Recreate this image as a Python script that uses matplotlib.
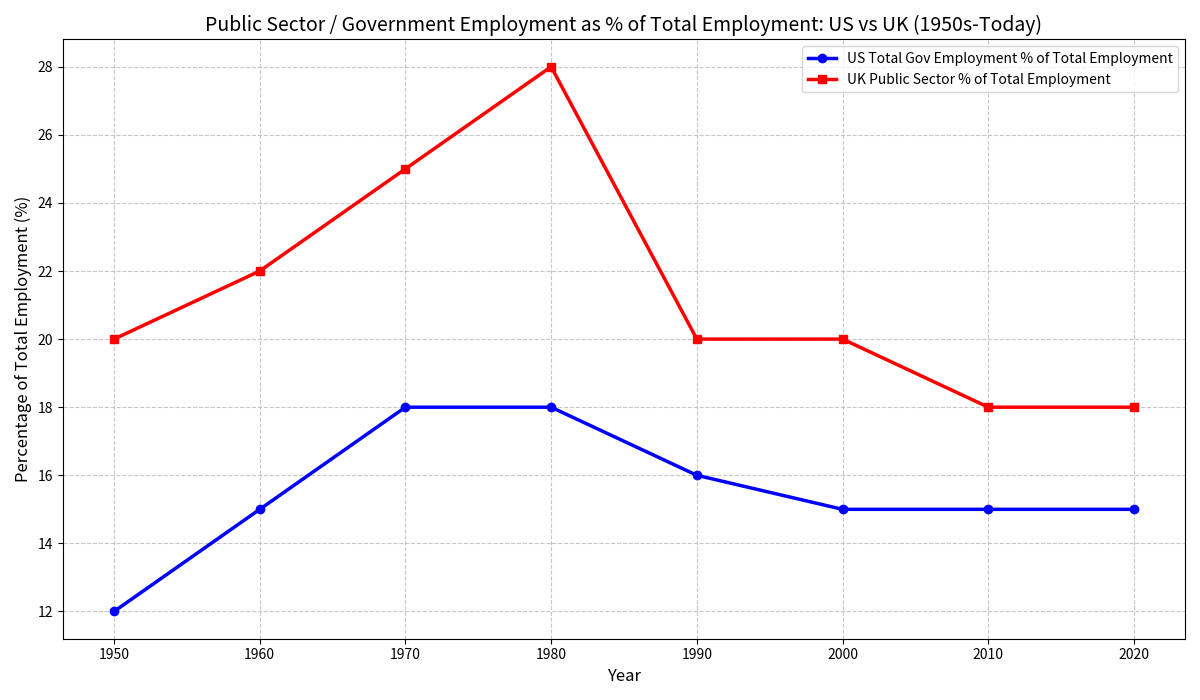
import matplotlib
matplotlib.use("Agg")
import matplotlib.pyplot as plt

plt.rcParams['font.family'] = ['Noto Sans CJK SC', 'DejaVu Sans']

years = [1950, 1960, 1970, 1980, 1990, 2000, 2010, 2020]
us_gov = [12, 15, 18, 18, 16, 15, 15, 15]
uk_public = [20, 22, 25, 28, 20, 20, 18, 18]

fig, ax = plt.subplots(figsize=(12, 7), dpi=100)
ax.plot(years, us_gov, 'o-', color='blue', linewidth=2.5, markersize=6,
        label='US Total Gov Employment % of Total Employment')
ax.plot(years, uk_public, 's-', color='red', linewidth=2.5, markersize=6,
        label='UK Public Sector % of Total Employment')

ax.set_title('Public Sector / Government Employment as % of Total Employment: US vs UK (1950s-Today)',
             fontsize=14)
ax.set_xlabel('Year', fontsize=12)
ax.set_ylabel('Percentage of Total Employment (%)', fontsize=12)
ax.set_xticks(years)
ax.set_yticks(range(12, 29, 2))
ax.grid(True, linestyle='--', alpha=0.7)
ax.legend(loc='upper right')

fig.tight_layout()
fig.savefig('out.png')
